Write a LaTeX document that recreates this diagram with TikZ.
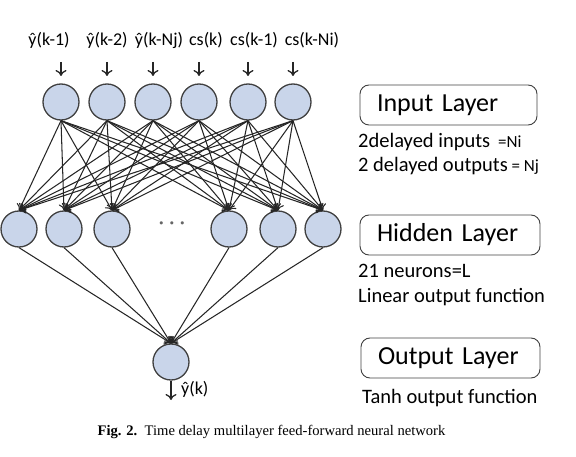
\documentclass[tikz,border=0pt]{standalone}
\usepackage{fontspec}
\setmainfont{Carlito}
\newfontfamily\capfont{Liberation Serif}
\usetikzlibrary{arrows.meta}
\definecolor{nfill}{RGB}{201,213,234}
\definecolor{nline}{RGB}{64,64,64}
\begin{document}
\begin{tikzpicture}[x=1pt,y=-1pt,
  neuron/.style={circle,draw=nline,line width=1.3pt,fill=nfill,minimum size=36pt,inner sep=0pt},
  conn/.style={draw=black!85,line width=1.05pt,-{To[length=6pt,width=10pt]}},
  inarrow/.style={draw=black!85,line width=1.3pt,-{To[length=6pt,width=11pt]}},
  layerbox/.style={draw=nline,line width=0.9pt,rounded corners=9pt,minimum height=40pt,inner xsep=17pt,align=left,font=\fontsize{26}{29}\selectfont},
  lbl/.style={font=\fontsize{18}{20}\selectfont,inner sep=0pt},
  note/.style={font=\fontsize{20.5}{22}\selectfont,anchor=base west,inner sep=0pt}]
\useasboundingbox (0,0) rectangle (576,457);
% input layer
\foreach \i/\x in {1/61,2/107,3/153,4/199,5/248,6/293}{
  \node[neuron] (i\i) at (\x,102) {};
  \coordinate (a\i) at (\x,62);
  \draw[inarrow] (a\i) -- (\x,76);
}
% hidden layer
\foreach \i/\x in {1/19,2/64,3/112,4/229,5/278,6/323}{
  \node[neuron] (h\i) at (\x,229) {};
}
\node[font=\fontsize{22}{24}\selectfont,text=black!60,inner sep=0pt] (dots) at (172,226) {·\hspace{5pt}·\hspace{5pt}·};
% output
\node[neuron] (o) at (171,362) {};
\coordinate (yout) at (171,400);
\draw[inarrow] (o) -- (yout);
\node[lbl,anchor=west] (ylab) at (181,389) {\^y(k)};
% connections
\foreach \i in {1,...,6}{
  \foreach \j in {1,...,6}{
    \draw[conn] (i\i.south) -- (h\j.north);
  }
  \draw[conn] (h\i.south) -- (o.north);
}
% input labels
\node[lbl] (l1) at (49,40) {\^y(k-1)};
\node[lbl] (l2) at (107,40) {\^y(k-2)};
\node[lbl] (l3) at (159,40) {\^y(k-Nj)};
\node[lbl] (l4) at (206,40) {cs(k)};
\node[lbl] (l5) at (254,40) {cs(k-1)};
\node[lbl] (l6) at (312,40) {cs(k-Ni)};
% layer boxes
\node[layerbox,text width=143pt] (bin) at (448.5,105) {Input Layer};
\node[layerbox,text width=146pt] (bhid) at (450,235) {Hidden Layer};
\node[layerbox,text width=145pt] (bout) at (450.5,358) {Output Layer};
\node[note] (n1) at (358,148) {2delayed inputs\hspace{8pt}{\fontsize{17}{18}\selectfont =Ni}};
\node[note] (n2) at (358,172) {2 delayed outputs{\fontsize{17}{18}\selectfont\ = Nj}};
\node[note] (n3) at (358,278) {21 neurons=L};
\node[note] (n4) at (358,302) {Linear output function};
\node[note] (n5) at (362,403) {Tanh output function};
% caption
\node[font=\capfont\fontsize{14.6}{16}\selectfont,inner sep=0pt] (cap) at (271.5,432) {\textbf{Fig. 2.}\ \ Time delay multilayer feed-forward neural network};
\end{tikzpicture}
\end{document}
